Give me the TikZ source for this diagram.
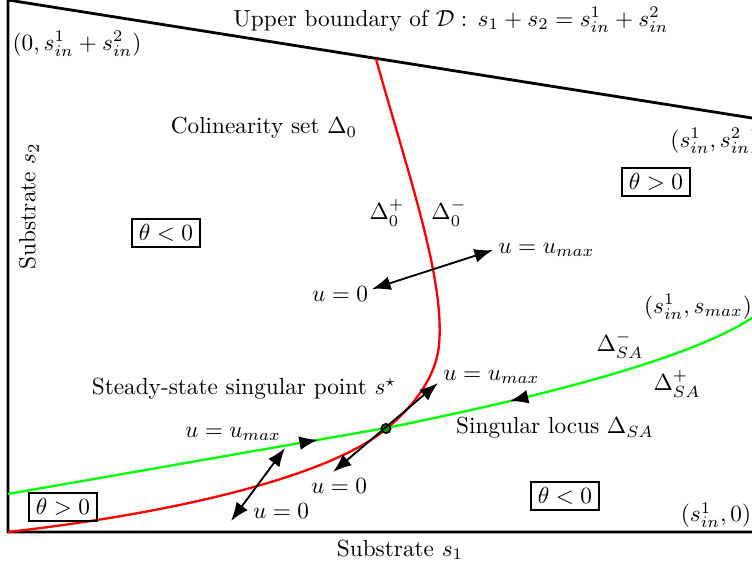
\documentclass[tikz,border=0pt]{standalone}
\usetikzlibrary{arrows.meta,decorations.markings}
\begin{document}
\begin{tikzpicture}[x=0.43pt,y=-0.43pt,
  frame/.style={line width=1.2pt},
  redc/.style={red,line width=1pt},
  greenc/.style={green,line width=1pt},
  tbox/.style={draw,line width=0.9pt,inner xsep=3pt,inner ysep=2.5pt},
  dbl/.style={{Latex[length=8pt,width=6pt]}-{Latex[length=8pt,width=6pt]},line width=0.8pt},
  lbl/.style={inner sep=0pt},
  midr/.style={postaction={decorate},decoration={markings,mark=at position #1 with {\arrow[black]{Latex[length=8pt,width=6pt]}}}},
  midl/.style={postaction={decorate},decoration={markings,mark=at position #1 with {\arrowreversed[black]{Latex[length=8pt,width=6pt]}}}}]
\useasboundingbox (0,0) rectangle (752,570);
% frame of the domain
\draw[frame] (752,118) -- (8,0) -- (8,532) -- (752,532);
% colinearity set (red)
\draw[redc] (376,59) .. controls (410,180) and (445,280) .. (439,345)
  .. controls (436,378) and (412,408) .. (386,429)
  .. controls (336,471) and (200,510) .. (8,532);
% singular locus (green)
\draw[greenc,midr=0.82] (8,494) -- (386,428);
\draw[greenc,midl=0.33] (386,428) .. controls (500,405) and (680,365) .. (752,318);
% singular point
\node[circle,draw=black,fill=green!60!black,line width=0.7pt,minimum size=4pt,inner sep=0pt] (sstar) at (386,428.5) {};
% arrows
\coordinate (a1) at (372,289);
\coordinate (a2) at (493,250);
\draw[dbl] (a1) -- (a2);
\coordinate (b1) at (333,472);
\coordinate (b2) at (438,383);
\draw[dbl] (b1) -- (b2);
\coordinate (c1) at (231,521);
\coordinate (c2) at (285,448);
\draw[dbl] (c1) -- (c2);
% texts
\node[lbl] (upper) at (451,20) {Upper boundary of $\mathcal{D}:\, s_1+s_2=s^1_{in}+s^2_{in}$};
\node[lbl] (tl) at (77,44) {$(0,s^1_{in}+s^2_{in})$};
\node[lbl,anchor=west] (tr) at (670,141) {$(s^1_{in},s^2_{in})$};
\node[lbl] (colin) at (264,128) {Colinearity set $\Delta_0$};
\node[tbox] (t1) at (656,182) {$\theta>0$};
\node[tbox] (t2) at (166,233) {$\theta<0$};
\node[tbox] (t3) at (63,507) {$\theta>0$};
\node[tbox] (t4) at (565,496) {$\theta<0$};
\node[lbl,rotate=90] (s2) at (29,206) {Substrate $s_2$};
\node[lbl] (s1) at (400,550) {Substrate $s_1$};
\node[lbl] (dp) at (387,213) {$\Delta_0^+$};
\node[lbl] (dm) at (449,213) {$\Delta_0^-$};
\node[lbl,anchor=west] (u1) at (498,250) {$u=u_{max}$};
\node[lbl] (u2) at (340,294) {$u=0$};
\node[lbl,anchor=west] (u3) at (443,377) {$u=u_{max}$};
\node[lbl] (ss) at (244,389) {Steady-state singular point $s^\star$};
\node[lbl] (u4) at (233,434) {$u=u_{max}$};
\node[lbl] (u5) at (339,486) {$u=0$};
\node[lbl] (u6) at (281,511) {$u=0$};
\node[lbl] (br) at (716,515) {$(s^1_{in},0)$};
\node[lbl] (sl) at (555,428) {Singular locus $\Delta_{SA}$};
\node[lbl] (dsm) at (620,345) {$\Delta_{SA}^-$};
\node[lbl] (dsp) at (677,384) {$\Delta_{SA}^+$};
\node[lbl] (smax) at (698,307) {$(s^1_{in},s_{max})$};
\end{tikzpicture}
\end{document}
